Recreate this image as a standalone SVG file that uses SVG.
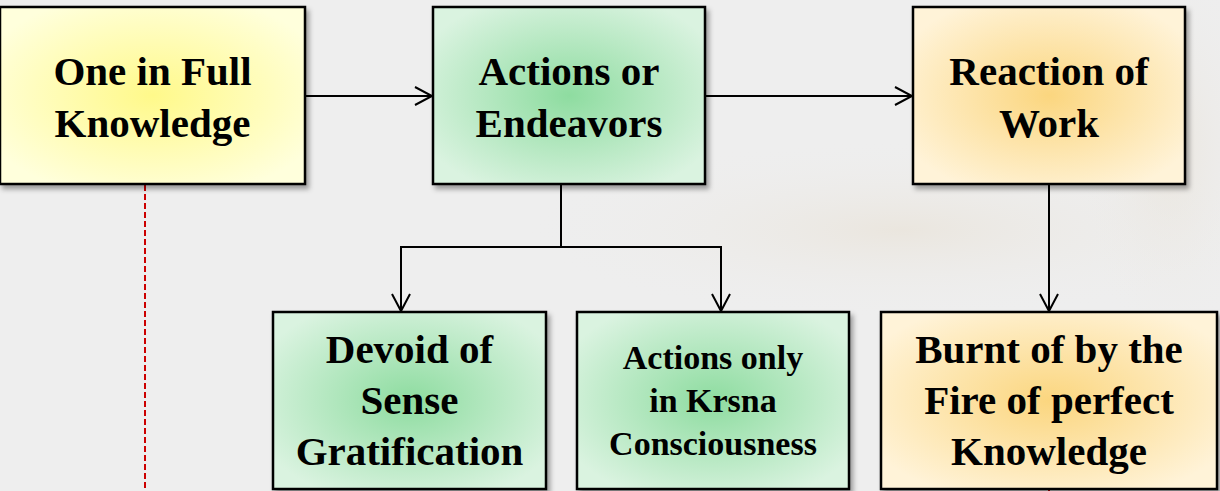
<svg xmlns="http://www.w3.org/2000/svg" width="1220" height="491" viewBox="0 0 1220 491">
<defs>
<style>
.box{stroke:#000;stroke-width:2.5;filter:url(#sh)}
.t{font-family:"Liberation Serif","Times New Roman",serif;font-weight:bold;fill:#000;text-anchor:middle}
.big{font-size:41px}
.sm{font-size:34px}
.con{fill:none;stroke:#000;stroke-width:2}
</style>
<radialGradient id="gy" cx="50%" cy="50%" r="60%"><stop offset="0" stop-color="#fff98a"/><stop offset="1" stop-color="#ffffdc"/></radialGradient>
<radialGradient id="gg" cx="50%" cy="50%" r="60%"><stop offset="0" stop-color="#8edca0"/><stop offset="1" stop-color="#daf3e0"/></radialGradient>
<radialGradient id="go" cx="50%" cy="50%" r="60%"><stop offset="0" stop-color="#fbd67f"/><stop offset="1" stop-color="#fff3d8"/></radialGradient>
<radialGradient id="bg1" cx="50%" cy="50%" r="50%"><stop offset="0" stop-color="#e6dccb" stop-opacity="0.45"/><stop offset="1" stop-color="#eeeeee" stop-opacity="0"/></radialGradient>
<filter id="sh" x="-10%" y="-10%" width="125%" height="130%"><feDropShadow dx="3" dy="4" stdDeviation="2.5" flood-color="#000" flood-opacity="0.35"/></filter>
<marker id="ah" markerUnits="userSpaceOnUse" markerWidth="24" markerHeight="24" viewBox="-20 -12 24 24" refX="0" refY="0" orient="auto">
<path d="M-17,-9 L0,0 L-17,9" fill="none" stroke="#000" stroke-width="2"/>
</marker>
</defs>
<rect width="1220" height="491" fill="#eeeeee"/>
<ellipse cx="900" cy="230" rx="380" ry="90" fill="url(#bg1)"/>
<ellipse cx="1170" cy="150" rx="100" ry="200" fill="url(#bg1)"/>

<g id="connectors">
<line class="con" x1="305" y1="96" x2="432" y2="96" marker-end="url(#ah)"/>
<line class="con" x1="705" y1="96" x2="912" y2="96" marker-end="url(#ah)"/>
<polyline class="con" points="561,184 561,247"/>
<polyline class="con" points="401,311 401,247 721,247 721,311"/>
<line class="con" x1="401" y1="290" x2="401" y2="311" marker-end="url(#ah)"/>
<line class="con" x1="721" y1="290" x2="721" y2="311" marker-end="url(#ah)"/>
<line class="con" x1="1049" y1="184" x2="1049" y2="311" marker-end="url(#ah)"/>
<line x1="145" y1="185" x2="145" y2="491" stroke="#cc0000" stroke-width="2" stroke-dasharray="6,3"/>
<line x1="1049" y1="489" x2="1049" y2="491" stroke="#cc0000" stroke-width="2"/>
</g>

<g id="n1">
<rect class="box" x="0" y="7" width="305" height="177" fill="url(#gy)"/>
<text class="t big" x="152.5" y="85">One in Full</text>
<text class="t big" x="152.5" y="137">Knowledge</text>
</g>
<g id="n2">
<rect class="box" x="433" y="7" width="272" height="177" fill="url(#gg)"/>
<text class="t big" x="569" y="85">Actions or</text>
<text class="t big" x="569" y="137">Endeavors</text>
</g>
<g id="n3">
<rect class="box" x="913" y="7" width="272" height="177" fill="url(#go)"/>
<text class="t big" x="1049" y="85">Reaction of</text>
<text class="t big" x="1049" y="137">Work</text>
</g>
<g id="n4">
<rect class="box" x="273" y="312" width="273" height="177" fill="url(#gg)"/>
<text class="t big" x="409.5" y="363">Devoid of</text>
<text class="t big" x="409.5" y="414">Sense</text>
<text class="t big" x="409.5" y="465">Gratification</text>
</g>
<g id="n5">
<rect class="box" x="577" y="312" width="272" height="177" fill="url(#gg)"/>
<text class="t sm" x="713" y="369">Actions only</text>
<text class="t sm" x="713" y="412">in Krsna</text>
<text class="t sm" x="713" y="455">Consciousness</text>
</g>
<g id="n6">
<rect class="box" x="881" y="312" width="336" height="177" fill="url(#go)"/>
<text class="t big" x="1049" y="363">Burnt of by the</text>
<text class="t big" x="1049" y="414">Fire of perfect</text>
<text class="t big" x="1049" y="465">Knowledge</text>
</g>
</svg>
